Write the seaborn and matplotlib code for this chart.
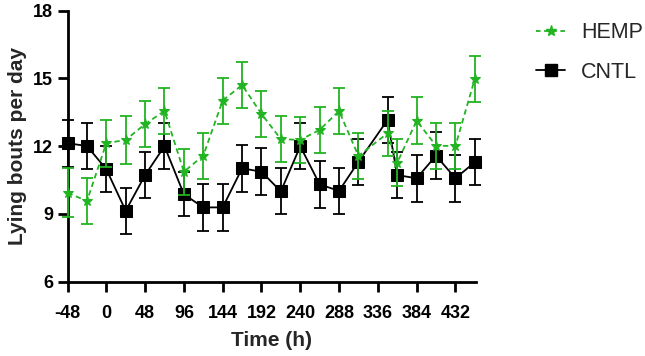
import numpy as np
import pandas as pd
import matplotlib
matplotlib.use("Agg")
import matplotlib.pyplot as plt
import seaborn as sns
from matplotlib.lines import Line2D

time_h = [-48, -24, 0, 24, 48, 72, 96, 120, 144, 168, 192, 216, 240, 264, 288, 312, 348, 360, 384, 408, 432, 456]
hemp_mean = [9.94, 9.57, 12.13, 12.28, 12.98, 13.56, 10.87, 11.58, 14.02, 14.71, 13.43, 12.31, 12.28, 12.72, 13.56, 11.57, 12.57, 11.27, 13.13, 12.02, 12.01, 14.98]
hemp_se = [1.08, 1.02, 1.03, 1.05, 1.03, 1.03, 1.01, 1.02, 1.02, 1.03, 1.02, 1.02, 1.03, 1.03, 1.03, 1.02, 1.01, 1.03, 1.03, 1.02, 1.02, 1.03]
cntl_mean = [12.13, 12.01, 10.98, 9.14, 10.72, 12.0, 9.87, 9.29, 9.29, 11.02, 10.87, 10.0, 12.0, 10.31, 10.02, 11.31, 13.16, 10.72, 10.58, 11.58, 10.58, 11.29]
cntl_se = [1.05, 1.03, 1.03, 1.03, 1.03, 1.03, 0.98, 1.03, 1.03, 1.03, 1.03, 1.02, 1.03, 1.03, 1.02, 1.03, 1.03, 1.03, 1.03, 1.03, 1.03, 1.03]

x_ticks = [-48, 0, 48, 96, 144, 192, 240, 288, 336, 384, 432]
y_ticks = [6, 9, 12, 15, 18]
series_names = ["HEMP", "CNTL"]

GREEN = "#22B422"
BLACK = "#000000"

sns.set_theme(style="ticks")
plt.rcParams["font.family"] = ["Liberation Sans", "DejaVu Sans"]

fig = plt.figure(figsize=(6.45, 3.56), dpi=100)
ax = fig.add_axes([0.1047, 0.2087, 0.738 - 0.1047, 0.97 - 0.2087])

df_c = pd.DataFrame({"t": time_h, "y": cntl_mean})
df_h = pd.DataFrame({"t": time_h, "y": hemp_mean})

# CNTL
ax.errorbar(time_h, cntl_mean, yerr=cntl_se, fmt="none", ecolor=BLACK,
            elinewidth=1.3, capsize=4, capthick=1.3, zorder=3, clip_on=False)
sns.lineplot(data=df_c, x="t", y="y", ax=ax, color=BLACK, linewidth=1.3,
             marker="s", markersize=8, markeredgecolor=BLACK, markerfacecolor=BLACK,
             zorder=4, clip_on=False)
# HEMP
ax.errorbar(time_h, hemp_mean, yerr=hemp_se, fmt="none", ecolor=GREEN,
            elinewidth=1.3, capsize=4, capthick=1.3, zorder=5, clip_on=False)
sns.lineplot(data=df_h, x="t", y="y", ax=ax, color=GREEN, linewidth=1.3,
             linestyle=(0, (3, 2)), marker="*", markersize=8,
             markeredgecolor=GREEN, markerfacecolor=GREEN, zorder=6, clip_on=False)

ax.set_xlim(-48, 457.5)
ax.set_ylim(6, 18)
ax.set_xticks(x_ticks)
ax.set_yticks(y_ticks)
ax.set_xticklabels([str(v) for v in x_ticks], fontsize=13, fontweight="bold")
ax.set_yticklabels([str(v) for v in y_ticks], fontsize=13, fontweight="bold")
ax.set_xlabel("Time (h)", fontsize=15, fontweight="bold", labelpad=7)
ax.set_ylabel("Lying bouts per day", fontsize=15, fontweight="bold", labelpad=4)

for s in ["top", "right"]:
    ax.spines[s].set_visible(False)
for s in ["left", "bottom"]:
    ax.spines[s].set_linewidth(2)
    ax.spines[s].set_color("black")
ax.tick_params(axis="both", direction="out", length=7.5, width=2, color="black",
               labelcolor="black")
ax.tick_params(axis="y", pad=3)
ax.tick_params(axis="x", pad=9)

handles = [
    Line2D([], [], color=GREEN, linestyle=(0, (2.5, 2)), linewidth=1.3, marker="*",
           markersize=8, markerfacecolor=GREEN, markeredgecolor=GREEN),
    Line2D([], [], color=BLACK, linewidth=1.3, marker="s", markersize=8,
           markerfacecolor=BLACK, markeredgecolor=BLACK),
]
leg = fig.legend(handles, series_names, loc="upper left", bbox_to_anchor=(536 / 645, 0.937),
                 frameon=False, fontsize=15.5, handlelength=1.35, handletextpad=0.75,
                 labelspacing=0.85, borderpad=0, borderaxespad=0)

fig.savefig("out.png", dpi=100)
